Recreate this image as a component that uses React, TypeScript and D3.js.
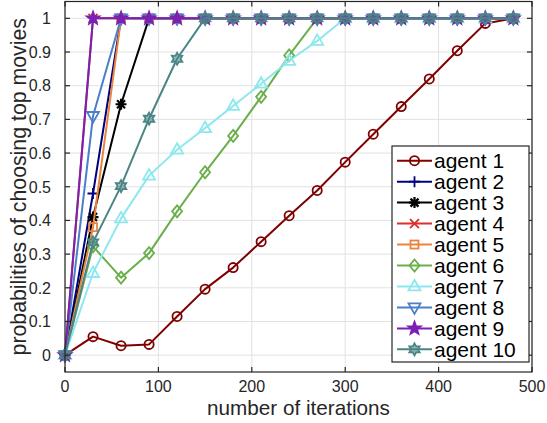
import React from "react";
import * as d3 from "d3";

const iterations = [0, 30, 60, 90, 120, 150, 180, 210, 240, 270, 300, 330, 360, 390, 420, 450, 480];
const agentNames = ["agent 1", "agent 2", "agent 3", "agent 4", "agent 5", "agent 6", "agent 7", "agent 8", "agent 9", "agent 10"];
const agent1 = [0, 0.055, 0.028, 0.032, 0.115, 0.196, 0.26, 0.337, 0.414, 0.489, 0.573, 0.656, 0.738, 0.82, 0.904, 0.985, 1];
const agent2 = [0, 0.48, 1, 1, 1, 1, 1, 1, 1, 1, 1, 1, 1, 1, 1, 1, 1];
const agent3 = [0, 0.41, 0.745, 1, 1, 1, 1, 1, 1, 1, 1, 1, 1, 1, 1, 1, 1];
const agent4 = [0, 1, 1, 1, 1, 1, 1, 1, 1, 1, 1, 1, 1, 1, 1, 1, 1];
const agent5 = [0, 0.38, 1, 1, 1, 1, 1, 1, 1, 1, 1, 1, 1, 1, 1, 1, 1];
const agent6 = [0, 0.323, 0.23, 0.303, 0.427, 0.543, 0.651, 0.767, 0.89, 1, 1, 1, 1, 1, 1, 1, 1];
const agent7 = [0, 0.244, 0.406, 0.533, 0.61, 0.674, 0.74, 0.806, 0.874, 0.933, 1, 1, 1, 1, 1, 1, 1];
const agent8 = [0, 0.71, 1, 1, 1, 1, 1, 1, 1, 1, 1, 1, 1, 1, 1, 1, 1];
const agent9 = [0, 1, 1, 1, 1, 1, 1, 1, 1, 1, 1, 1, 1, 1, 1, 1, 1];
const agent10 = [0, 0.335, 0.502, 0.702, 0.88, 1, 1, 1, 1, 1, 1, 1, 1, 1, 1, 1, 1];
const seriesValues = [agent1, agent2, agent3, agent4, agent5, agent6, agent7, agent8, agent9, agent10];
const colors = ["#800000", "#000080", "#000000", "#d9302e", "#e8853d", "#6aaf4b", "#8ce8ee", "#4a7fc9", "#7a20b3", "#4b8585"];
const markerTypes = ["circle", "plus", "asterisk", "x", "square", "diamond", "triUp", "triDown", "pentagram", "hexagram"];
const xTicks = [0, 100, 200, 300, 400, 500];
const yTicks = [0, 0.1, 0.2, 0.3, 0.4, 0.5, 0.6, 0.7, 0.8, 0.9, 1];
const yTickLabels = ["0", "0.1", "0.2", "0.3", "0.4", "0.5", "0.6", "0.7", "0.8", "0.9", "1"];

const W = 547, H = 423;
const left = 65, right = 532, top = 1.5, bottom = 372;
const FONT = "'Liberation Sans', Arial, Helvetica, sans-serif";

function starPath(n: number, rOut: number, rIn: number) {
  const pts: string[] = [];
  for (let i = 0; i < 2 * n; i++) {
    const r = i % 2 === 0 ? rOut : rIn;
    const a = -Math.PI / 2 + (i * Math.PI) / n;
    pts.push(`${(r * Math.cos(a)).toFixed(2)},${(r * Math.sin(a)).toFixed(2)}`);
  }
  return "M" + pts.join("L") + "Z";
}

function Marker({ type, color, x, y }: { type: string; color: string; x: number; y: number }) {
  const sw = 1.8;
  const common = { stroke: color, strokeWidth: sw, fill: "none" } as any;
  const t = `translate(${x},${y})`;
  switch (type) {
    case "circle":
      return <circle cx={x} cy={y} r={4.6} {...common} />;
    case "plus":
      return <path transform={t} d="M-5.5,0H5.5M0,-5.5V5.5" {...common} />;
    case "asterisk":
      return <path transform={t} d="M-5.5,0H5.5M0,-5.5V5.5M-4,-4L4,4M-4,4L4,-4" {...common} strokeWidth={2.2} />;
    case "x":
      return <path transform={t} d="M-4.5,-4.5L4.5,4.5M-4.5,4.5L4.5,-4.5" {...common} />;
    case "square":
      return <rect x={x - 4} y={y - 4} width={8} height={8} {...common} />;
    case "diamond":
      return <path transform={t} d="M0,-6L5,0L0,6L-5,0Z" {...common} />;
    case "triUp":
      return <path transform={t} d="M0,-6.5L6,4L-6,4Z" {...common} />;
    case "triDown":
      return <path transform={t} d="M0,6.5L6,-4L-6,-4Z" {...common} />;
    case "pentagram":
      return <path transform={t} d={starPath(5, 7, 2.9)} stroke={color} strokeWidth={1.5} fill={color} />;
    case "hexagram":
      return <path transform={t} d={starPath(6, 6, 3.4)} stroke={color} strokeWidth={1.8} fill={color} fillOpacity={0.55} />;
  }
  return null;
}

export default function App() {
  const x = d3.scaleLinear().domain([0, 500]).range([left, right]);
  const y = d3.scaleLinear().domain([-0.05, 1.05]).range([bottom, top]);
  const line = d3
    .line<number>()
    .x((_, i) => x(iterations[i]))
    .y((d) => y(d));
  const axisColor = "#262626";
  const gridColor = "#e2e2e2";

  const legX = 392, legY = 146, legW = 137, legH = 216;
  const rowH = 20.96, row0 = 160.7;

  return (
    <div style={{ position: "fixed", left: 0, top: 0 }}>
      <svg width={W} height={H} style={{ display: "block", background: "#fff" }}>
        {/* grid */}
        {xTicks.map((t) => (
          <line key={"gx" + t} x1={x(t)} x2={x(t)} y1={top} y2={bottom} stroke={gridColor} strokeWidth={1} />
        ))}
        {yTicks.map((t) => (
          <line key={"gy" + t} x1={left} x2={right} y1={y(t)} y2={y(t)} stroke={gridColor} strokeWidth={1} />
        ))}
        {/* series */}
        {seriesValues.map((vals, si) => (
          <g key={"s" + si}>
            <path d={line(vals) || ""} fill="none" stroke={colors[si]} strokeWidth={2} strokeLinejoin="round" />
            {vals.map((v, i) => (
              <Marker key={i} type={markerTypes[si]} color={colors[si]} x={x(iterations[i])} y={y(v)} />
            ))}
          </g>
        ))}
        {/* frame */}
        <rect x={left} y={top} width={right - left} height={bottom - top} fill="none" stroke={axisColor} strokeWidth={1.2} />
        {xTicks.map((t) => (
          <g key={"tx" + t}>
            <line x1={x(t)} x2={x(t)} y1={bottom} y2={bottom - 5} stroke={axisColor} strokeWidth={1.2} />
            <line x1={x(t)} x2={x(t)} y1={top} y2={top + 5} stroke={axisColor} strokeWidth={1.2} />
            <text x={x(t)} y={392} textAnchor="middle" fontFamily={FONT} fontSize={16} fill={axisColor}>
              {t}
            </text>
          </g>
        ))}
        {yTicks.map((t, i) => (
          <g key={"ty" + t}>
            <line x1={left} x2={left + 5} y1={y(t)} y2={y(t)} stroke={axisColor} strokeWidth={1.2} />
            <line x1={right} x2={right - 5} y1={y(t)} y2={y(t)} stroke={axisColor} strokeWidth={1.2} />
            <text x={51} y={y(t)} dy="0.36em" textAnchor="end" fontFamily={FONT} fontSize={16} fill={axisColor}>
              {yTickLabels[i]}
            </text>
          </g>
        ))}
        {/* axis labels */}
        <text x={(left + right) / 2} y={415} textAnchor="middle" fontFamily={FONT} fontSize={20.7} fill={axisColor}>
          number of iterations
        </text>
        <text
          transform={`translate(26,${(top + bottom) / 2}) rotate(-90)`}
          textAnchor="middle"
          fontFamily={FONT}
          fontSize={21.3}
          fill={axisColor}
        >
          probabilities of choosing top movies
        </text>
        {/* legend */}
        <rect x={legX} y={legY} width={legW} height={legH} fill="#fff" stroke={axisColor} strokeWidth={1.2} />
        {agentNames.map((name, i) => {
          const cy = row0 + i * rowH;
          return (
            <g key={"l" + i}>
              <line x1={397} x2={432} y1={cy} y2={cy} stroke={colors[i]} strokeWidth={2} />
              <Marker type={markerTypes[i]} color={colors[i]} x={414.5} y={cy} />
              <text x={434} y={cy} dy="0.36em" fontFamily={FONT} fontSize={21} fill="#000">
                {name}
              </text>
            </g>
          );
        })}
      </svg>
    </div>
  );
}
